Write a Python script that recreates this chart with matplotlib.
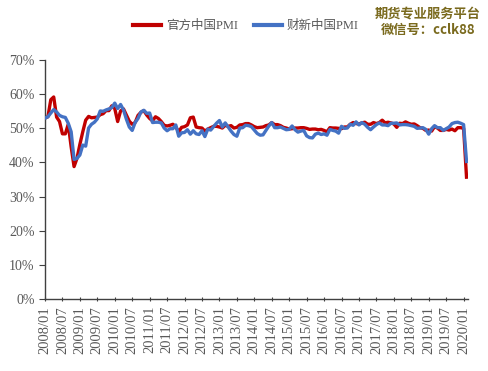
import matplotlib
matplotlib.use("Agg")
import matplotlib.pyplot as plt
import numpy as np

plt.rcParams['font.family'] = ['Liberation Serif', 'Noto Sans CJK SC']

# Monthly data, 2008/01 .. 2020/02
official_pmi = [
    53.0, 53.4, 58.4, 59.2, 53.3, 52.0, 48.4, 48.4, 51.2, 44.6, 38.8, 41.2,  # 2008
    45.3, 49.0, 52.4, 53.5, 53.1, 53.2, 53.3, 54.0, 54.3, 55.2, 55.2, 56.6,  # 2009
    55.8, 52.0, 55.1, 55.7, 53.9, 52.1, 51.2, 51.7, 53.8, 54.7, 55.2, 53.9,  # 2010
    52.9, 52.2, 53.4, 52.9, 52.0, 50.9, 50.7, 50.9, 51.2, 50.4, 49.0, 50.3,  # 2011
    50.5, 51.0, 53.1, 53.3, 50.4, 50.2, 50.1, 49.2, 49.8, 50.2, 50.6, 50.6,  # 2012
    50.4, 50.1, 50.9, 50.6, 50.8, 50.1, 50.3, 51.0, 51.1, 51.4, 51.4, 51.0,  # 2013
    50.5, 50.2, 50.3, 50.4, 50.8, 51.0, 51.7, 51.1, 51.1, 50.8, 50.3, 50.1,  # 2014
    49.8, 49.9, 50.1, 50.1, 50.2, 50.2, 50.0, 49.7, 49.8, 49.8, 49.6, 49.7,  # 2015
    49.4, 49.0, 50.2, 50.1, 50.1, 50.0, 49.9, 50.4, 50.4, 51.2, 51.7, 51.4,  # 2016
    51.3, 51.6, 51.8, 51.2, 51.2, 51.7, 51.4, 51.7, 52.4, 51.6, 51.8, 51.6,  # 2017
    51.3, 50.3, 51.5, 51.4, 51.9, 51.5, 51.2, 51.3, 50.8, 50.2, 50.0, 49.4,  # 2018
    49.5, 49.2, 50.5, 50.1, 49.4, 49.4, 49.7, 49.5, 49.8, 49.3, 50.2, 50.2,  # 2019
    50.0, 35.7,                                                              # 2020
]
caixin_pmi = [
    53.0, 53.4, 54.5, 55.5, 54.8, 53.8, 53.4, 53.2, 51.5, 49.0, 40.9, 41.2,  # 2008
    42.2, 45.1, 44.8, 50.1, 51.2, 51.8, 52.8, 55.1, 55.0, 55.4, 55.7, 56.1,  # 2009
    57.4, 55.8, 57.0, 55.4, 52.7, 50.4, 49.4, 51.7, 52.9, 54.8, 55.3, 54.4,  # 2010
    54.5, 51.7, 51.8, 51.8, 51.6, 50.1, 49.3, 49.9, 49.9, 51.0, 47.7, 48.7,  # 2011
    48.8, 49.6, 48.3, 49.3, 48.4, 48.2, 49.3, 47.6, 49.8, 49.5, 50.5, 51.5,  # 2012
    52.3, 50.4, 51.6, 50.4, 49.2, 48.2, 47.7, 50.1, 50.2, 50.9, 50.8, 50.5,  # 2013
    49.5, 48.5, 48.0, 48.1, 49.4, 50.7, 51.7, 50.2, 50.2, 50.4, 50.0, 49.6,  # 2014
    49.7, 50.7, 49.6, 48.9, 49.2, 49.4, 47.8, 47.3, 47.2, 48.3, 48.6, 48.2,  # 2015
    48.4, 48.0, 49.7, 49.4, 49.2, 48.6, 50.6, 50.0, 50.1, 51.2, 50.9, 51.9,  # 2016
    51.0, 51.7, 51.2, 50.3, 49.6, 50.4, 51.1, 51.6, 51.0, 51.0, 50.8, 51.5,  # 2017
    51.5, 51.6, 51.0, 51.1, 51.1, 51.0, 50.8, 50.6, 50.0, 50.1, 50.2, 49.7,  # 2018
    48.3, 49.9, 50.8, 50.2, 50.2, 49.4, 49.9, 50.4, 51.4, 51.7, 51.8, 51.5,  # 2019
    51.1, 40.3,                                                              # 2020
]
tick_labels = [f"{2008 + i // 2}/{'01' if i % 2 == 0 else '07'}" for i in range(25)]
series_names = ["官方中国PMI", "财新中国PMI"]

fig = plt.figure(figsize=(4.89, 3.71), dpi=100)
ax = fig.add_axes([0.092, 0.194, 0.865, 0.644])

x = np.arange(len(official_pmi))
ax.plot(x, np.array(official_pmi) / 100, color="#C00000", lw=2.4, label=series_names[0],
        solid_joinstyle="round", zorder=2)
ax.plot(x, np.array(caixin_pmi) / 100, color="#4472C4", lw=2.4, label=series_names[1],
        solid_joinstyle="round", zorder=3)

ax.set_ylim(0, 0.70)
ax.set_yticks(np.arange(0, 0.71, 0.10))
ax.set_yticklabels([f"{int(v)}%" for v in np.arange(0, 71, 10)])
ax.set_xlim(0, 145.5)
ax.set_xticks(np.arange(0, 145, 6))
ax.set_xticklabels(tick_labels, rotation=90)

for s in ["top", "right"]:
    ax.spines[s].set_visible(False)
for s in ["left", "bottom"]:
    ax.spines[s].set_color("#404040")
    ax.spines[s].set_linewidth(1.0)
ax.tick_params(axis="y", colors="#404040", labelcolor="#595959", labelsize=10, length=4, direction="out")
ax.tick_params(axis="x", colors="#404040", labelcolor="#595959", labelsize=10.5, length=3,
               direction="inout")

leg = fig.legend(loc="center", bbox_to_anchor=(0.503, 0.93), ncol=2, frameon=False,
                 fontsize=9, handlelength=2.2, columnspacing=1.3, handletextpad=0.4)
for t in leg.get_texts():
    t.set_color("#595959")
for h in leg.get_lines():
    h.set_linewidth(3)

fig.text(0.875, 0.962, "期货专业服务平台", ha="center", va="center", fontsize=9.5,
         fontweight="bold", color="#7A6A1E", family=["Noto Sans CJK SC"])
fig.text(0.875, 0.918, "微信号：cclk88", ha="center", va="center", fontsize=9.5,
         fontweight="bold", color="#7A6A1E", family=["Noto Sans CJK SC"])

fig.savefig("out.png", dpi=100)
